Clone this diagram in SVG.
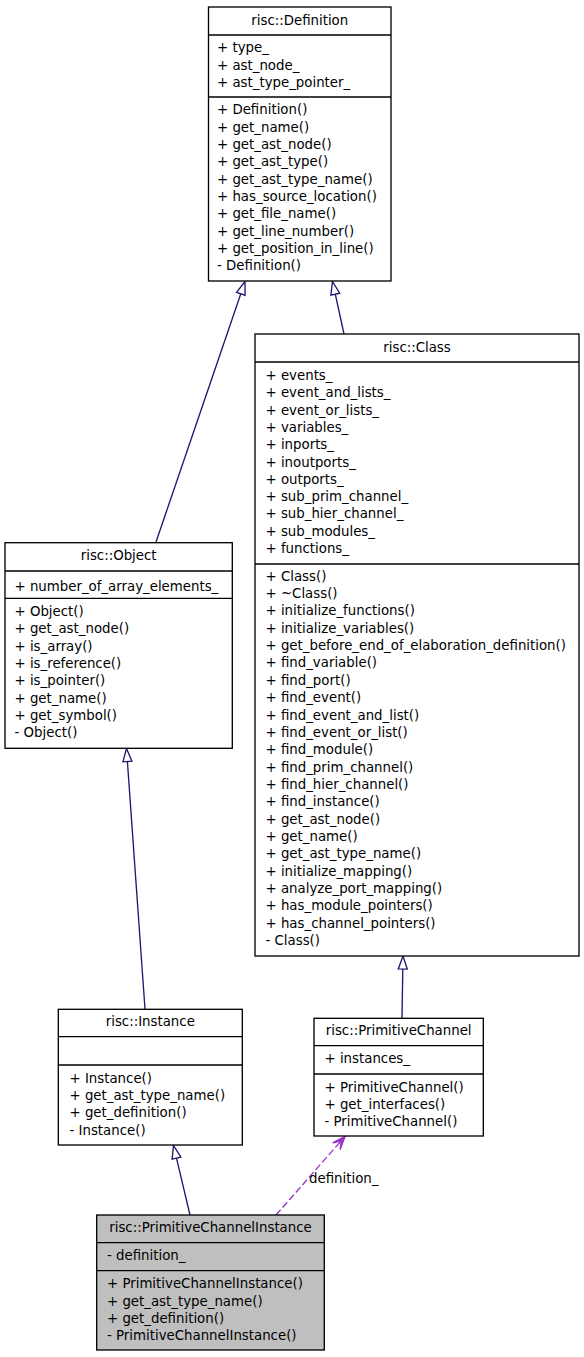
<svg xmlns="http://www.w3.org/2000/svg" width="584" height="1357" viewBox="0 0 584 1357">
<style>
text{font-family:"DejaVu Sans","Liberation Sans",sans-serif;font-size:13.33px;fill:#000}
.t{text-anchor:middle}
.box{fill:#fff;stroke:#000;stroke-width:1.33}
.cur{fill:#bfbfbf;stroke:#000;stroke-width:1.33}
.div{stroke:#000;stroke-width:1.33}
.inh{stroke:#191970;stroke-width:1.33;fill:none}
.tri{stroke:#191970;stroke-width:1.33;fill:#fff}
.use{stroke:#9a32cd;stroke-width:1.33;fill:none;stroke-dasharray:7,3}
.vee{stroke:#9a32cd;stroke-width:1.33;fill:#9a32cd}
</style>
<rect x="0" y="0" width="584" height="1357" fill="#fff"/>
<g id="connectors">
  <path class="inh" d="M156,542 L240.8,293.8"/>
  <polygon class="tri" points="245,281.5 245.06,295.25 236.54,292.35"/>
  <path class="inh" d="M344,334 L335.3,294.2"/>
  <polygon class="tri" points="332.5,281.5 339.68,293.24 330.88,295.16"/>
  <path class="inh" d="M145,1009 L127.4,761.5"/>
  <polygon class="tri" points="126.5,748.5 131.91,761.15 122.93,761.79"/>
  <path class="inh" d="M402,1018 L402.8,969"/>
  <polygon class="tri" points="403,956 407.29,969.07 398.29,968.93"/>
  <path class="inh" d="M190,1215 L176.5,1158.2"/>
  <polygon class="tri" points="173.5,1145.5 180.88,1157.11 172.12,1159.19"/>
  <path class="use" d="M276,1215 L341,1141"/>
  <polygon class="vee" points="345,1136.5 340.17,1149.56 341.04,1141 332.67,1142.96"/>
  <text x="309" y="1182.5">definition_</text>
</g>
<g id="node-definition">
  <rect class="box" x="208.5" y="7" width="182.5" height="274"/>
  <line class="div" x1="208.5" y1="35" x2="391" y2="35"/>
  <line class="div" x1="208.5" y1="97" x2="391" y2="97"/>
  <text class="t" x="299.75" y="25">risc::Definition</text>
  <text><tspan x="217" y="52.3">+ type_</tspan><tspan x="217" y="69.65">+ ast_node_</tspan><tspan x="217" y="87">+ ast_type_pointer_</tspan></text>
  <text><tspan x="217" y="114.3">+ Definition()</tspan><tspan x="217" y="131.65">+ get_name()</tspan><tspan x="217" y="149">+ get_ast_node()</tspan><tspan x="217" y="166.35">+ get_ast_type()</tspan><tspan x="217" y="183.7">+ get_ast_type_name()</tspan><tspan x="217" y="201.05">+ has_source_location()</tspan><tspan x="217" y="218.4">+ get_file_name()</tspan><tspan x="217" y="235.75">+ get_line_number()</tspan><tspan x="217" y="253.1">+ get_position_in_line()</tspan><tspan x="217" y="270.45">- Definition()</tspan></text>
</g>
<g id="node-class">
  <rect class="box" x="255" y="334" width="324" height="622"/>
  <line class="div" x1="255" y1="362" x2="579" y2="362"/>
  <line class="div" x1="255" y1="564" x2="579" y2="564"/>
  <text class="t" x="417" y="351.7">risc::Class</text>
  <text><tspan x="265.5" y="380">+ events_</tspan><tspan x="265.5" y="397.3">+ event_and_lists_</tspan><tspan x="265.5" y="414.6">+ event_or_lists_</tspan><tspan x="265.5" y="431.9">+ variables_</tspan><tspan x="265.5" y="449.2">+ inports_</tspan><tspan x="265.5" y="466.5">+ inoutports_</tspan><tspan x="265.5" y="483.8">+ outports_</tspan><tspan x="265.5" y="501.1">+ sub_prim_channel_</tspan><tspan x="265.5" y="518.4">+ sub_hier_channel_</tspan><tspan x="265.5" y="535.7">+ sub_modules_</tspan><tspan x="265.5" y="553">+ functions_</tspan></text>
  <text><tspan x="265.5" y="580.7">+ Class()</tspan><tspan x="265.5" y="598.05">+ ~Class()</tspan><tspan x="265.5" y="615.4">+ initialize_functions()</tspan><tspan x="265.5" y="632.75">+ initialize_variables()</tspan><tspan x="265.5" y="650.1">+ get_before_end_of_elaboration_definition()</tspan><tspan x="265.5" y="667.45">+ find_variable()</tspan><tspan x="265.5" y="684.8">+ find_port()</tspan><tspan x="265.5" y="702.15">+ find_event()</tspan><tspan x="265.5" y="719.5">+ find_event_and_list()</tspan><tspan x="265.5" y="736.85">+ find_event_or_list()</tspan><tspan x="265.5" y="754.2">+ find_module()</tspan><tspan x="265.5" y="771.55">+ find_prim_channel()</tspan><tspan x="265.5" y="788.9">+ find_hier_channel()</tspan><tspan x="265.5" y="806.25">+ find_instance()</tspan><tspan x="265.5" y="823.6">+ get_ast_node()</tspan><tspan x="265.5" y="840.95">+ get_name()</tspan><tspan x="265.5" y="858.3">+ get_ast_type_name()</tspan><tspan x="265.5" y="875.65">+ initialize_mapping()</tspan><tspan x="265.5" y="893">+ analyze_port_mapping()</tspan><tspan x="265.5" y="910.35">+ has_module_pointers()</tspan><tspan x="265.5" y="927.7">+ has_channel_pointers()</tspan><tspan x="265.5" y="945.05">- Class()</tspan></text>
</g>
<g id="node-object">
  <rect class="box" x="5" y="542.7" width="227.3" height="205.6"/>
  <line class="div" x1="5" y1="571" x2="232.3" y2="571"/>
  <line class="div" x1="5" y1="598.3" x2="232.3" y2="598.3"/>
  <text class="t" x="118.65" y="560">risc::Object</text>
  <text x="14.5" y="590.5">+ number_of_array_elements_</text>
  <text><tspan x="14.5" y="616">+ Object()</tspan><tspan x="14.5" y="633.3">+ get_ast_node()</tspan><tspan x="14.5" y="650.6">+ is_array()</tspan><tspan x="14.5" y="667.9">+ is_reference()</tspan><tspan x="14.5" y="685.2">+ is_pointer()</tspan><tspan x="14.5" y="702.5">+ get_name()</tspan><tspan x="14.5" y="719.8">+ get_symbol()</tspan><tspan x="14.5" y="737.1">- Object()</tspan></text>
</g>
<g id="node-instance">
  <rect class="box" x="58.3" y="1009.3" width="184" height="135.7"/>
  <line class="div" x1="58.3" y1="1036.7" x2="242.3" y2="1036.7"/>
  <line class="div" x1="58.3" y1="1065" x2="242.3" y2="1065"/>
  <text class="t" x="150.3" y="1026">risc::Instance</text>
  <text><tspan x="69.5" y="1082.7">+ Instance()</tspan><tspan x="69.5" y="1100">+ get_ast_type_name()</tspan><tspan x="69.5" y="1117.3">+ get_definition()</tspan><tspan x="69.5" y="1134.6">- Instance()</tspan></text>
</g>
<g id="node-primitivechannel">
  <rect class="box" x="314" y="1018.3" width="169.3" height="117.7"/>
  <line class="div" x1="314" y1="1045.7" x2="483.3" y2="1045.7"/>
  <line class="div" x1="314" y1="1074" x2="483.3" y2="1074"/>
  <text class="t" x="398.65" y="1035">risc::PrimitiveChannel</text>
  <text x="324.5" y="1062.7">+ instances_</text>
  <text><tspan x="324.5" y="1091.7">+ PrimitiveChannel()</tspan><tspan x="324.5" y="1109">+ get_interfaces()</tspan><tspan x="324.5" y="1126.3">- PrimitiveChannel()</tspan></text>
</g>
<g id="node-primitivechannelinstance">
  <rect class="cur" x="96.7" y="1215" width="227.6" height="135"/>
  <line class="div" x1="96.7" y1="1242.7" x2="324.3" y2="1242.7"/>
  <line class="div" x1="96.7" y1="1270.7" x2="324.3" y2="1270.7"/>
  <text class="t" x="210.5" y="1231.7">risc::PrimitiveChannelInstance</text>
  <text x="107" y="1260">- definition_</text>
  <text><tspan x="107" y="1288.3">+ PrimitiveChannelInstance()</tspan><tspan x="107" y="1305.6">+ get_ast_type_name()</tspan><tspan x="107" y="1322.9">+ get_definition()</tspan><tspan x="107" y="1340.2">- PrimitiveChannelInstance()</tspan></text>
</g>
</svg>
